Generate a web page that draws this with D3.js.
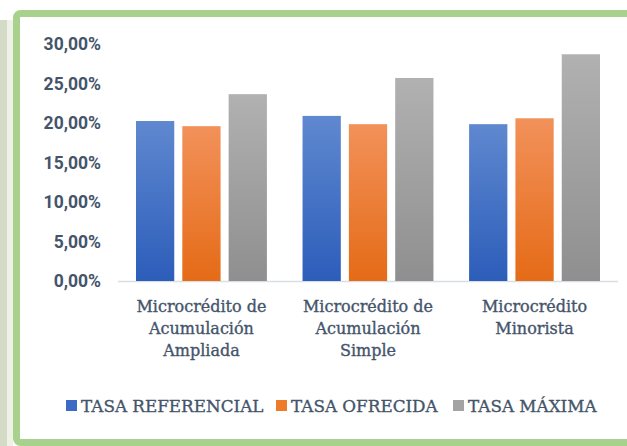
<!DOCTYPE html>
<html>
<head>
<meta charset="utf-8">
<script src="https://cdn.jsdelivr.net/npm/d3@7"></script>
<style>
  body { margin: 0; background: #fff; }
  svg { display: block; }
</style>
</head>
<body>
<div id="chart"></div>
<script>
const categories = [
  ["Microcrédito de", "Acumulación", "Ampliada"],
  ["Microcrédito de", "Acumulación", "Simple"],
  ["Microcrédito", "Minorista"]
];
const series = ["TASA REFERENCIAL", "TASA OFRECIDA", "TASA MÁXIMA"];
const tasaReferencial = [0.2025, 0.209, 0.1985];
const tasaOfrecida = [0.196, 0.1985, 0.206];
const tasaMaxima = [0.2365, 0.257, 0.287];
const yTicks = [0, 0.05, 0.10, 0.15, 0.20, 0.25, 0.30];

const W = 627, H = 446;
const textColor = "#44546a";

const svg = d3.select("#chart").append("svg")
  .attr("width", W)
  .attr("height", H);

// gradients like the office bars
const defs = svg.append("defs");
const grads = [
  ["gBlue", "#5f88cf", "#2c5dba"],
  ["gOrange", "#f2915a", "#e56b17"],
  ["gGray", "#b1b1b1", "#8f8f8f"]
];
grads.forEach(g => {
  const lg = defs.append("linearGradient")
    .attr("id", g[0]).attr("x1", 0).attr("y1", 0).attr("x2", 0).attr("y2", 1);
  lg.append("stop").attr("offset", "0%").attr("stop-color", g[1]);
  lg.append("stop").attr("offset", "100%").attr("stop-color", g[2]);
});
const color = d3.scaleOrdinal().domain(series).range(grads.map(g => `url(#${g[0]})`));
const swatch = d3.scaleOrdinal().domain(series).range(["#3d6ac4", "#ee7a2c", "#a3a3a3"]);

// frame
svg.append("rect").attr("x", 0).attr("y", 20).attr("width", 7).attr("height", H)
  .attr("fill", "#d3dbc6");
svg.append("rect").attr("x", 7).attr("y", 20).attr("width", 6).attr("height", H)
  .attr("fill", "#eef2e6");
svg.append("rect")
  .attr("x", 16.5).attr("y", 13.5)
  .attr("width", 640).attr("height", 429)
  .attr("rx", 4)
  .attr("fill", "#fff")
  .attr("stroke", "#a9d18e")
  .attr("stroke-width", 7);

// scales
const x0 = d3.scaleBand()
  .domain(d3.range(categories.length))
  .range([118, 618])
  .paddingInner(0.214)
  .paddingOuter(0.108);

const x1 = d3.scaleBand()
  .domain(series)
  .range([0, x0.bandwidth()])
  .paddingInner(0.174);

const y = d3.scaleLinear().domain([0, 0.30]).range([281, 44]);

// baseline
svg.append("line")
  .attr("x1", 118).attr("x2", 618)
  .attr("y1", y(0) + 0.5).attr("y2", y(0) + 0.5)
  .attr("stroke", "#d9dee5").attr("stroke-width", 1.5);

// y axis
const fmt = v => d3.format(".2f")(v * 100).replace(".", ",") + "%";
const yAxis = d3.axisLeft(y).tickValues(yTicks).tickFormat(fmt).tickSize(0).tickPadding(0);
const yg = svg.append("g").attr("transform", "translate(101,0)").call(yAxis);
yg.select(".domain").remove();
yg.selectAll("text")
  .attr("fill", textColor)
  .style("font-family", "Roboto, 'Liberation Sans', sans-serif")
  .style("font-weight", "bold")
  .style("font-size", "17.5px");

// bars
const data = categories.map((c, i) => ({
  i: i,
  values: [tasaReferencial[i], tasaOfrecida[i], tasaMaxima[i]]
}));

const groups = svg.selectAll(".barGroup").data(data).enter().append("g")
  .attr("class", "barGroup")
  .attr("transform", d => `translate(${x0(d.i)},0)`);

groups.selectAll("rect")
  .data(d => series.map((s, k) => ({ key: s, value: d.values[k] })))
  .enter().append("rect")
  .attr("x", d => x1(d.key))
  .attr("width", x1.bandwidth())
  .attr("y", d => y(d.value))
  .attr("height", d => y(0) - y(d.value))
  .attr("fill", d => color(d.key));

// category labels
const catText = svg.selectAll(".cat").data(data).enter().append("text")
  .attr("class", "cat")
  .attr("text-anchor", "middle")
  .attr("fill", textColor)
  .attr("stroke", textColor)
  .attr("stroke-width", 0.35)
  .style("font-family", "'DejaVu Serif', serif")
  .style("font-size", "16px")
  .attr("transform", d => `translate(${x0(d.i) + x0.bandwidth() / 2},312)`);
catText.each(function(d) {
  const t = d3.select(this);
  categories[d.i].forEach((line, k) => {
    t.append("tspan").attr("x", 0).attr("y", k * 22).text(line);
  });
});

// legend
const legendX = [66, 276, 453];
const legend = svg.selectAll(".legend").data(series).enter().append("g")
  .attr("class", "legend")
  .attr("transform", (d, i) => `translate(${legendX[i]},400)`);
legend.append("rect")
  .attr("width", 11).attr("height", 11)
  .attr("fill", d => swatch(d));
legend.append("text")
  .attr("x", 15).attr("y", 11.5)
  .attr("fill", textColor)
  .attr("stroke", textColor)
  .attr("stroke-width", 0.35)
  .style("font-family", "'DejaVu Serif', serif")
  .style("font-size", "16.8px")
  .text(d => d);
</script>
</body>
</html>
